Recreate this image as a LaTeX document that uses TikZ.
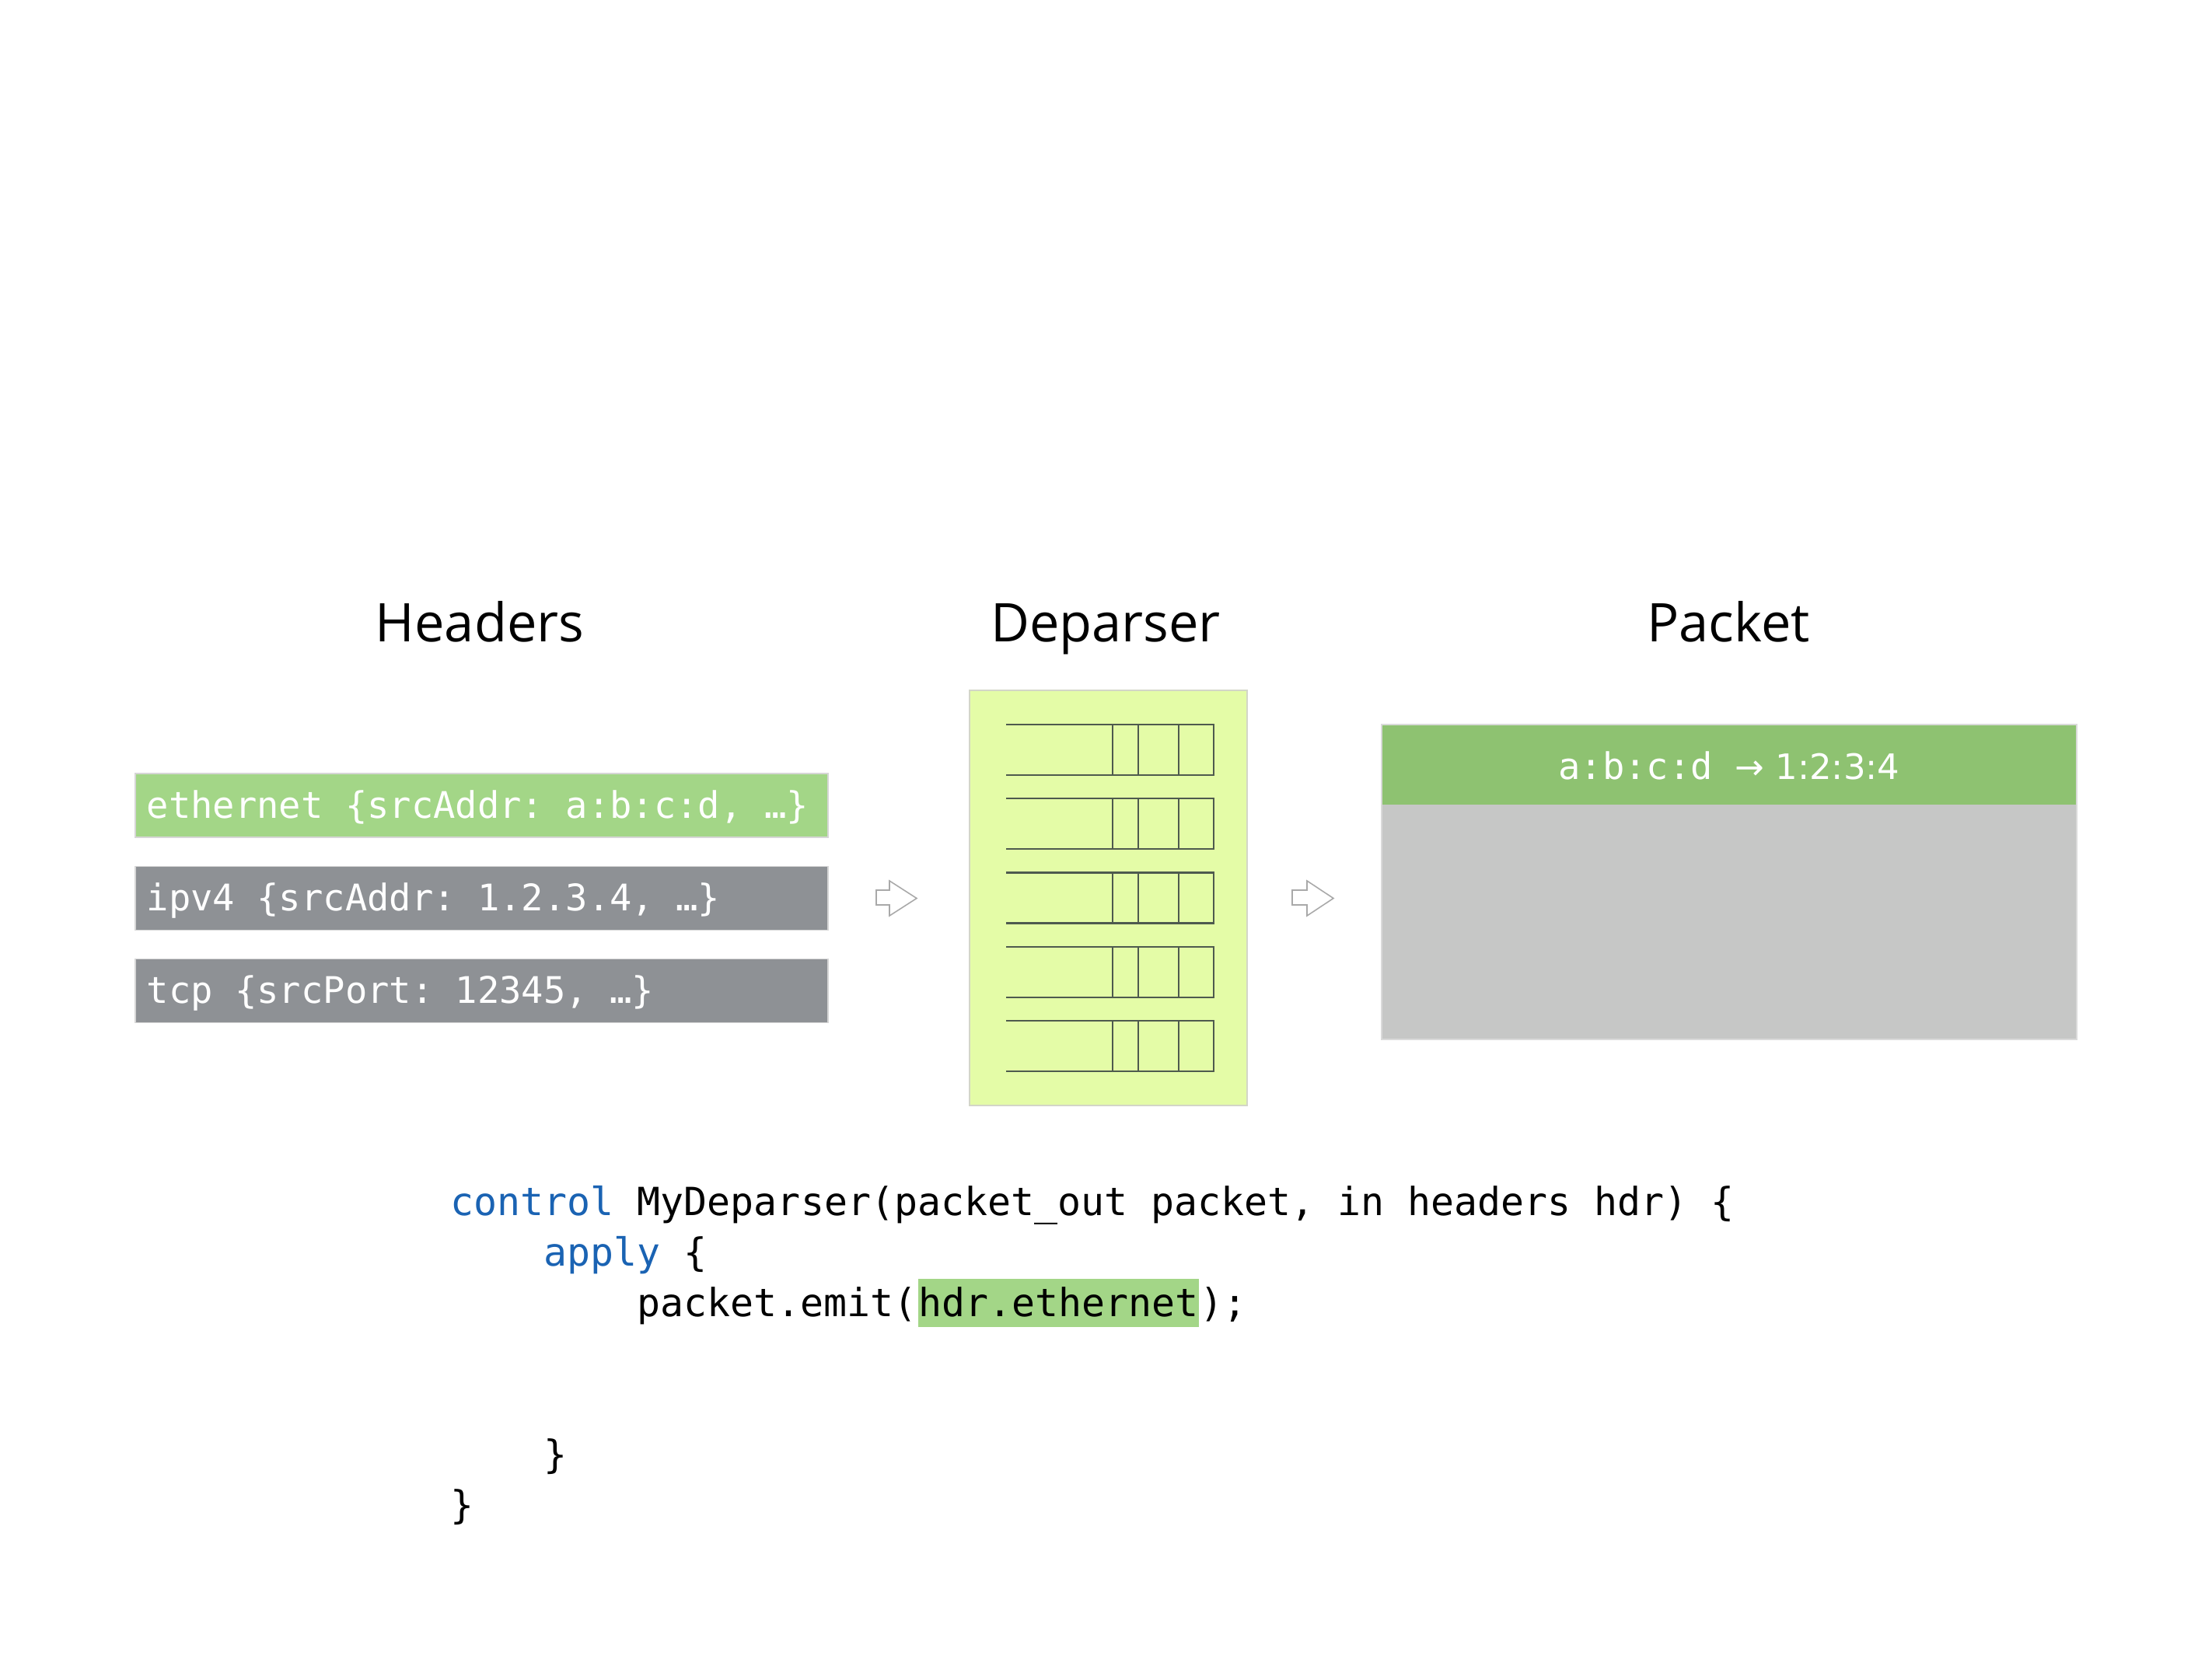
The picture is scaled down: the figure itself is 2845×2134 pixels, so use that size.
\documentclass[tikz,border=0pt]{standalone}
\usepackage{fontspec}
\newfontfamily\hmono{DejaVu Sans Mono}
\newfontfamily\tsans{Open Sans}
\newfontfamily\dsans{DejaVu Sans}
\frenchspacing
\definecolor{hgreen}{HTML}{A3D687}
\definecolor{hgray}{HTML}{8E9195}
\definecolor{hborder}{HTML}{D6D6D6}
\definecolor{dfill}{HTML}{E4FCA7}
\definecolor{dborder}{HTML}{D3D6C8}
\definecolor{dline}{HTML}{4E5A4E}
\definecolor{pgreen}{HTML}{8EC271}
\definecolor{pgray}{HTML}{C6C7C6}
\definecolor{pborder}{HTML}{DADADA}
\definecolor{kwblue}{HTML}{1A63B3}
\definecolor{arrowgray}{HTML}{A9A9A9}
\begin{document}
\begin{tikzpicture}[x=0.01cm,y=-0.01cm,
  title/.style={font=\tsans\fontsize{19.5}{23}\selectfont, text=black, inner sep=0pt, anchor=base},
  hbox/.style={draw=hborder, line width=0.45pt, minimum width=8.91cm, minimum height=0.82cm, inner sep=0pt},
  htext/.style={font=\hmono\frenchspacing\fontsize{13.4}{16}\selectfont, text=white, inner sep=0pt, anchor=base west},
  code/.style={font=\hmono\frenchspacing\fontsize{14.18}{17}\selectfont, text=black, inner sep=0pt, anchor=base west},
  rowline/.style={draw=dline, line width=0.7pt},
  blockarrow/.style={draw=arrowgray, fill=white, line width=0.45pt, line join=miter}
]
\useasboundingbox[fill=white] (0,0) rectangle (2845,2134);

% titles
\node[title] (tHeaders) at (617,826) {Headers};
\node[title] (tDeparser) at (1422,826) {Deparser};
\node[title] (tPacket) at (2223,826) {Packet};

% header boxes
\node[hbox, fill=hgreen] (eth) at (619.5,1036) {};
\node[hbox, fill=hgray] (ipv4) at (619.5,1155.5) {};
\node[hbox, fill=hgray] (tcp) at (619.5,1274.5) {};
\node[htext] (ethtext) at (188,1052) {ethernet {\char`\{}srcAddr: a:b:c:d, …{\char`\}}};
\node[htext] (ipv4text) at (188,1171.5) {ipv4 {\char`\{}srcAddr: 1.2.3.4, …{\char`\}}};
\node[htext] (tcptext) at (188,1290.5) {tcp {\char`\{}srcPort: 12345, …{\char`\}}};

% deparser
\node[draw=dborder, fill=dfill, line width=0.45pt, minimum width=3.57cm, minimum height=5.34cm, inner sep=0pt] (dep) at (1425.5,1155) {};
\foreach \i in {0,...,4}{
  \pgfmathsetmacro{\yt}{932+95.25*\i}
  \pgfmathsetmacro{\yb}{\yt+65}
  \draw[rowline] (1294,\yt) -- (1561,\yt) -- (1561,\yb) -- (1294,\yb);
  \draw[rowline] (1431,\yt) -- (1431,\yb);
  \draw[rowline] (1464,\yt) -- (1464,\yb);
  \draw[rowline] (1516,\yt) -- (1516,\yb);
}

% block arrows
\draw[blockarrow] (1127,1145) -- (1144,1145) -- (1144,1133) -- (1179,1155.5) -- (1144,1178) -- (1144,1164) -- (1127,1164) -- cycle;
\draw[blockarrow] (1662,1145) -- (1681,1145) -- (1681,1133) -- (1715,1155.5) -- (1681,1178) -- (1681,1164) -- (1662,1164) -- cycle;

% packet
\node[fill=pgray, minimum width=8.92cm, minimum height=3.01cm, inner sep=0pt] (pbody) at (2224,1185.5) {};
\node[fill=pgreen, minimum width=8.92cm, minimum height=1.02cm, inner sep=0pt] (phdr) at (2224,984) {};
\draw[pborder, line width=0.45pt] (phdr.north west) rectangle (pbody.south east);
\node[inner sep=0pt, text=white, anchor=base] (ptext) at (2224,1002) {{\hmono\fontsize{13.4}{16}\selectfont a:b:c:d }{\dsans\fontsize{12.8}{15}\selectfont → 1:2:3:4}};

% code
\node[code] (c1) at (579,1563) {\textcolor{kwblue}{control} MyDeparser(packet\_out packet, in headers hdr) {\char`\{}};
\node[code] (c2) at (699,1628) {\textcolor{kwblue}{apply} {\char`\{}};
\node[code] (c3a) at (819,1693) {packet.emit(};
\node[code, fill=hgreen, text height=13.7pt, text depth=4pt] (c3b) at (c3a.base east) {hdr.ethernet};
\node[code] (c3c) at (c3b.base east) {);};
\node[code] (c6) at (699,1888) {{\char`\}}};
\node[code] (c7) at (579,1953) {{\char`\}}};
\end{tikzpicture}
\end{document}
